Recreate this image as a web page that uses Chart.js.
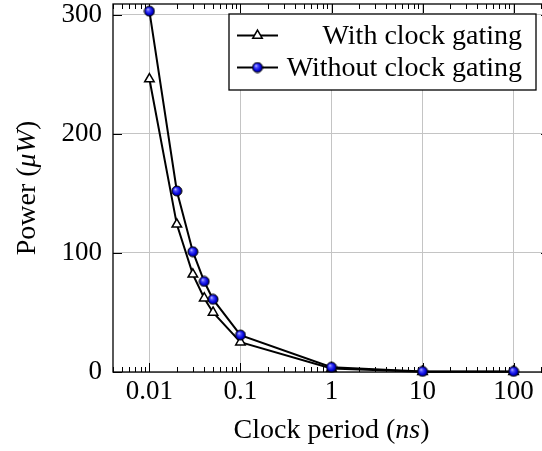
<!DOCTYPE html>
<html>
<head>
<meta charset="utf-8">
<script src="https://cdn.jsdelivr.net/npm/chart.js@4.4.1/dist/chart.umd.min.js"></script>
<style>
  html, body { margin: 0; padding: 0; background: #fff; overflow: hidden; }
  canvas { display: block; }
</style>
</head>
<body>
<canvas id="powerChart" width="570" height="451"></canvas>
<script>
// --- DATA ---
const periods = [0.01, 0.02, 0.03, 0.04, 0.05, 0.1, 1, 10, 100];
const powerWithGating = [246, 124, 82, 62, 50, 25, 3, 0.3, 0.3];
const powerWithoutGating = [303, 152, 101, 76, 61, 31, 4, 0.5, 0.5];
const xTicks = [0.01, 0.1, 1, 10, 100];
const yTicks = [0, 100, 200, 300];
const seriesNames = ['With clock gating', 'Without clock gating'];
const xTitle = [['Clock period (', false], ['ns', true], [')', false]];
const yTitle = [['Power (', false], ['\u03BCW', true], [')', false]];

// --- STYLE ---
const SERIF = '"Liberation Serif", "Times New Roman", serif';
const MAJOR = 9;
const MINOR = 5;

// shaded blue ball, like pgfplots "ball color=blue"
function makeBall(r) {
    const size = Math.ceil(r * 2 + 2);
    const c = document.createElement('canvas');
    c.width = size;
    c.height = size;
    const g = c.getContext('2d');
    const m = size / 2;
    const grad = g.createRadialGradient(m - r * 0.35, m - r * 0.4, 0, m, m, r);
    grad.addColorStop(0, '#dcdcff');
    grad.addColorStop(0.3, '#5050ff');
    grad.addColorStop(0.75, '#0000d8');
    grad.addColorStop(1, '#00006a');
    g.beginPath();
    g.arc(m, m, r, 0, Math.PI * 2);
    g.fillStyle = grad;
    g.fill();
    g.lineWidth = 1;
    g.strokeStyle = '#000';
    g.stroke();
    return c;
}
const ball = makeBall(5);

function drawMixed(ctx, parts, x, y, size) {
    let total = 0;
    const widths = parts.map(([t, it]) => {
        ctx.font = (it ? 'italic ' : '') + size + 'px ' + SERIF;
        const w = ctx.measureText(t).width;
        total += w;
        return w;
    });
    let cx = x - total / 2;
    parts.forEach(([t, it], i) => {
        ctx.font = (it ? 'italic ' : '') + size + 'px ' + SERIF;
        ctx.fillText(t, cx, y);
        cx += widths[i];
    });
}

// --- PLUGINS ---
const frameAndTicks = {
    id: 'frameAndTicks',
    beforeDatasetsDraw(chart) {
        const { ctx, chartArea: a, scales: { x, y } } = chart;
        ctx.save();
        ctx.strokeStyle = '#000';
        ctx.lineWidth = 1;
        ctx.beginPath();
        for (let d = -3; d <= 2; d++) {
            for (let m = 2; m <= 9; m++) {
                const v = m * Math.pow(10, d);
                if (v <= x.min || v >= x.max) continue;
                const px = Math.round(x.getPixelForValue(v)) + 0.5;
                ctx.moveTo(px, a.bottom);
                ctx.lineTo(px, a.bottom - MINOR);
                ctx.moveTo(px, a.top);
                ctx.lineTo(px, a.top + MINOR);
            }
        }
        xTicks.forEach(v => {
            const px = Math.round(x.getPixelForValue(v)) + 0.5;
            ctx.moveTo(px, a.bottom);
            ctx.lineTo(px, a.bottom - MAJOR);
            ctx.moveTo(px, a.top);
            ctx.lineTo(px, a.top + MAJOR);
        });
        yTicks.forEach(v => {
            const py = Math.round(y.getPixelForValue(v)) + 0.5;
            ctx.moveTo(a.left, py);
            ctx.lineTo(a.left + MAJOR, py);
            ctx.moveTo(a.right, py);
            ctx.lineTo(a.right - MAJOR, py);
        });
        ctx.stroke();
        ctx.lineWidth = 1.3;
        ctx.strokeRect(a.left, a.top, a.right - a.left, a.bottom - a.top);
        ctx.restore();
    }
};

const titlesAndLegend = {
    id: 'titlesAndLegend',
    afterDraw(chart) {
        const { ctx, chartArea: a } = chart;
        ctx.save();
        ctx.fillStyle = '#000';
        ctx.textBaseline = 'alphabetic';
        ctx.textAlign = 'left';

        // axis titles
        drawMixed(ctx, xTitle, (a.left + a.right) / 2, 438, 28);
        ctx.save();
        ctx.translate(35, (a.top + a.bottom) / 2);
        ctx.rotate(-Math.PI / 2);
        drawMixed(ctx, yTitle, 0, 0, 28);
        ctx.restore();

        // legend box
        const box = { l: 229, t: 14, r: 536, b: 90 };
        ctx.fillStyle = '#fff';
        ctx.fillRect(box.l, box.t, box.r - box.l, box.b - box.t);
        ctx.strokeStyle = '#000';
        ctx.lineWidth = 1.3;
        ctx.strokeRect(box.l, box.t, box.r - box.l, box.b - box.t);

        const baselines = [43.5, 75.5];
        chart.data.datasets.forEach((ds, i) => {
            const yc = baselines[i] - 8;
            ctx.strokeStyle = '#000';
            ctx.lineWidth = 2;
            ctx.beginPath();
            ctx.moveTo(237, yc);
            ctx.lineTo(278, yc);
            ctx.stroke();
            ctx.fillStyle = ds.pointBackgroundColor;
            ctx.strokeStyle = ds.pointBorderColor;
            ctx.lineWidth = ds.pointBorderWidth;
            Chart.helpers.drawPoint(ctx, {
                pointStyle: ds.pointStyle,
                radius: ds.pointRadius,
                rotation: 0,
                borderWidth: ds.pointBorderWidth
            }, 257.5, yc);
            ctx.fillStyle = '#000';
            ctx.font = '28px ' + SERIF;
            ctx.textAlign = 'right';
            ctx.fillText(ds.label, 522, baselines[i]);
            ctx.textAlign = 'left';
        });
        ctx.restore();
    }
};

// --- CHART ---
const ctx = document.getElementById('powerChart').getContext('2d');

new Chart(ctx, {
    type: 'line',
    data: {
        datasets: [
            {
                label: seriesNames[0],
                data: periods.map((p, i) => ({ x: p, y: powerWithGating[i] })),
                borderColor: '#000',
                borderWidth: 2,
                pointStyle: 'triangle',
                pointRadius: 5.5,
                pointBackgroundColor: '#fff',
                pointBorderColor: '#000',
                pointBorderWidth: 1.5,
                tension: 0,
                clip: false,
                order: 2
            },
            {
                label: seriesNames[1],
                data: periods.map((p, i) => ({ x: p, y: powerWithoutGating[i] })),
                borderColor: '#000',
                borderWidth: 2,
                pointStyle: ball,
                pointRadius: 5.5,
                pointBackgroundColor: '#00f',
                pointBorderColor: '#000',
                pointBorderWidth: 1,
                tension: 0,
                clip: false,
                order: 1
            }
        ]
    },
    options: {
        responsive: false,
        animation: false,
        events: [],
        layout: { autoPadding: false, padding: { left: 0, top: 4, right: 20, bottom: 0 } },
        plugins: {
            legend: { display: false },
            tooltip: { enabled: false }
        },
        scales: {
            x: {
                type: 'logarithmic',
                min: Math.pow(10, -2.4),
                max: Math.pow(10, 2.4),
                afterBuildTicks: s => { s.ticks = xTicks.map(v => ({ value: v })); },
                afterFit: s => { s.height = 79; s.paddingLeft = 0; s.paddingRight = 0; },
                grid: { color: '#c4c4c4', lineWidth: 1, drawTicks: false },
                border: { display: false },
                ticks: {
                    autoSkip: false,
                    maxRotation: 0,
                    padding: 4,
                    color: '#000',
                    font: { family: SERIF, size: 27 },
                    callback: v => String(v)
                }
            },
            y: {
                type: 'linear',
                min: 0,
                max: 309,
                afterBuildTicks: s => { s.ticks = yTicks.map(v => ({ value: v })); },
                afterFit: s => { s.width = 113; s.paddingTop = 0; s.paddingBottom = 0; },
                grid: { color: '#c4c4c4', lineWidth: 1, drawTicks: false },
                border: { display: false },
                ticks: {
                    padding: 11,
                    color: '#000',
                    font: { family: SERIF, size: 27 },
                    callback: v => String(v)
                }
            }
        }
    },
    plugins: [frameAndTicks, titlesAndLegend]
});
</script>
</body>
</html>
